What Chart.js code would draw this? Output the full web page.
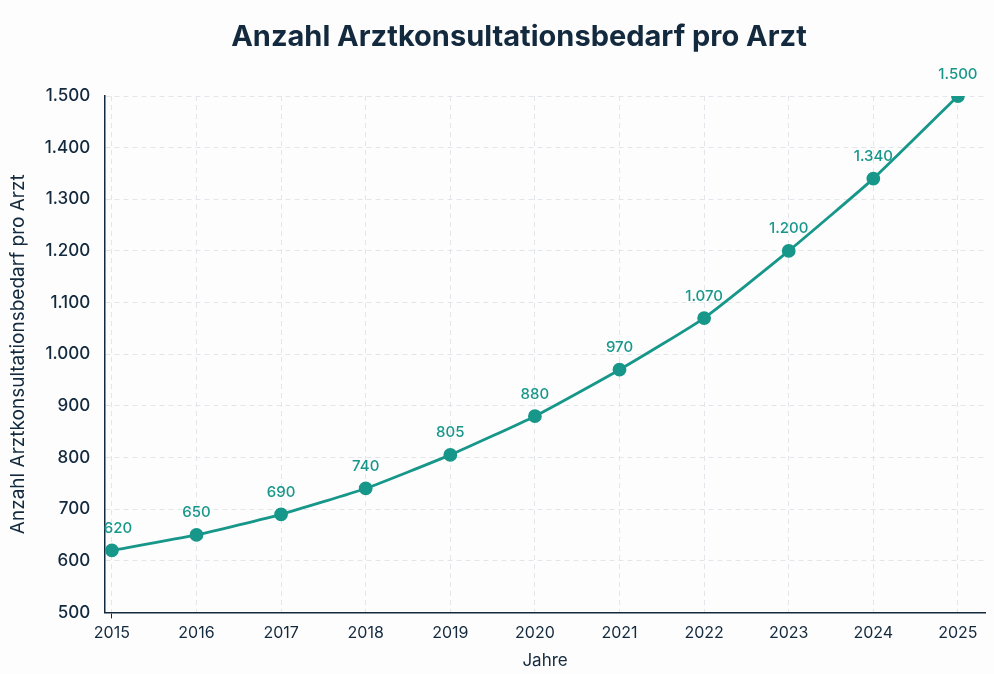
<!DOCTYPE html>
<html>
<head>
<meta charset="utf-8">
<script src="https://cdn.jsdelivr.net/npm/chart.js@4"></script>
<style>
  html, body { margin: 0; padding: 0; background: #fdfdfd; }
  #wrap { width: 994px; height: 674px; position: relative; }
  #title {
    position: absolute; left: 0; top: 17px; width: 994px;
    box-sizing: border-box; padding-left: 44px;
    text-align: center; margin: 0;
    font: 700 29px Inter, "Open Sans", sans-serif; color: #13293d;
    line-height: 38px;
  }
</style>
</head>
<body>
<div id="wrap">
  <h1 id="title">Anzahl Arztkonsultationsbedarf pro Arzt</h1>
  <canvas id="chart"></canvas>
</div>
<script>
var years = [2015, 2016, 2017, 2018, 2019, 2020, 2021, 2022, 2023, 2024, 2025];
var bedarf = [620, 650, 690, 740, 805, 880, 970, 1070, 1200, 1340, 1500];

var teal = '#17978a';
var navy = '#13293d';
var gridCol = '#e2e6ea';
var fam = 'Inter, "Open Sans", sans-serif';

function fmt(v) {
  return String(v).replace(/\B(?=(\d{3})+(?!\d))/g, '.');
}

// draws the value above every point, like a datalabels plugin would
var pointLabels = {
  id: 'pointLabels',
  afterDatasetsDraw: function(chart) {
    var ctx = chart.ctx;
    var meta = chart.getDatasetMeta(0);
    ctx.save();
    ctx.fillStyle = teal;
    ctx.font = '500 15px ' + fam;
    ctx.textAlign = 'center';
    ctx.textBaseline = 'middle';
    meta.data.forEach(function(pt, i) {
      ctx.fillText(fmt(bedarf[i]), pt.x + (i === 0 ? 6 : 0), pt.y - 22);
    });
    ctx.restore();
  }
};

var ctx = document.getElementById('chart').getContext('2d');
var chart = new Chart(ctx, {
  type: 'line',
  data: {
    datasets: [{
      data: years.map(function(y, i) { return { x: y, y: bedarf[i] }; }),
      borderColor: teal,
      backgroundColor: teal,
      borderWidth: 2.8,
      pointRadius: 5.5,
      pointHoverRadius: 5.5,
      tension: 0.15,
      fill: false
    }]
  },
  options: {
    responsive: true,
    maintainAspectRatio: false,
    animation: false,
    layout: { padding: { left: 4, right: 9, top: 96, bottom: 0 } },
    plugins: {
      legend: { display: false },
      tooltip: { enabled: false },
      title: { display: false }
    },
    scales: {
      x: {
        type: 'linear',
        min: 2014.92,
        max: 2025.32,
        afterBuildTicks: function(axis) {
          axis.ticks = years.map(function(y) { return { value: y }; });
        },
        ticks: {
          color: navy,
          font: { family: fam, size: 16 },
          padding: 5,
          callback: function(v) { return String(v); }
        },
        grid: {
          color: gridCol,
          drawTicks: true,
          tickLength: 6,
          tickColor: function(c) { return c.index === 0 ? navy : 'rgba(0,0,0,0)'; }
        },
        border: { display: true, color: navy, width: 1.5, dash: [5, 4] },
        title: {
          display: true,
          text: 'Jahre',
          color: navy,
          font: { family: fam, size: 17 },
          padding: { top: 3, bottom: 3 }
        }
      },
      y: {
        min: 500,
        max: 1500,
        ticks: {
          stepSize: 100,
          color: navy,
          font: { family: fam, size: 17, weight: '500' },
          padding: 15,
          callback: function(v) { return fmt(v); }
        },
        grid: { color: gridCol, drawTicks: false },
        border: { display: true, color: navy, width: 1.5, dash: [5, 4] },
        title: {
          display: true,
          text: 'Anzahl Arztkonsultationsbedarf pro Arzt',
          color: navy,
          font: { family: fam, size: 19 },
          padding: { top: 3, bottom: 0 }
        }
      }
    }
  },
  plugins: [pointLabels]
});
</script>
</body>
</html>
